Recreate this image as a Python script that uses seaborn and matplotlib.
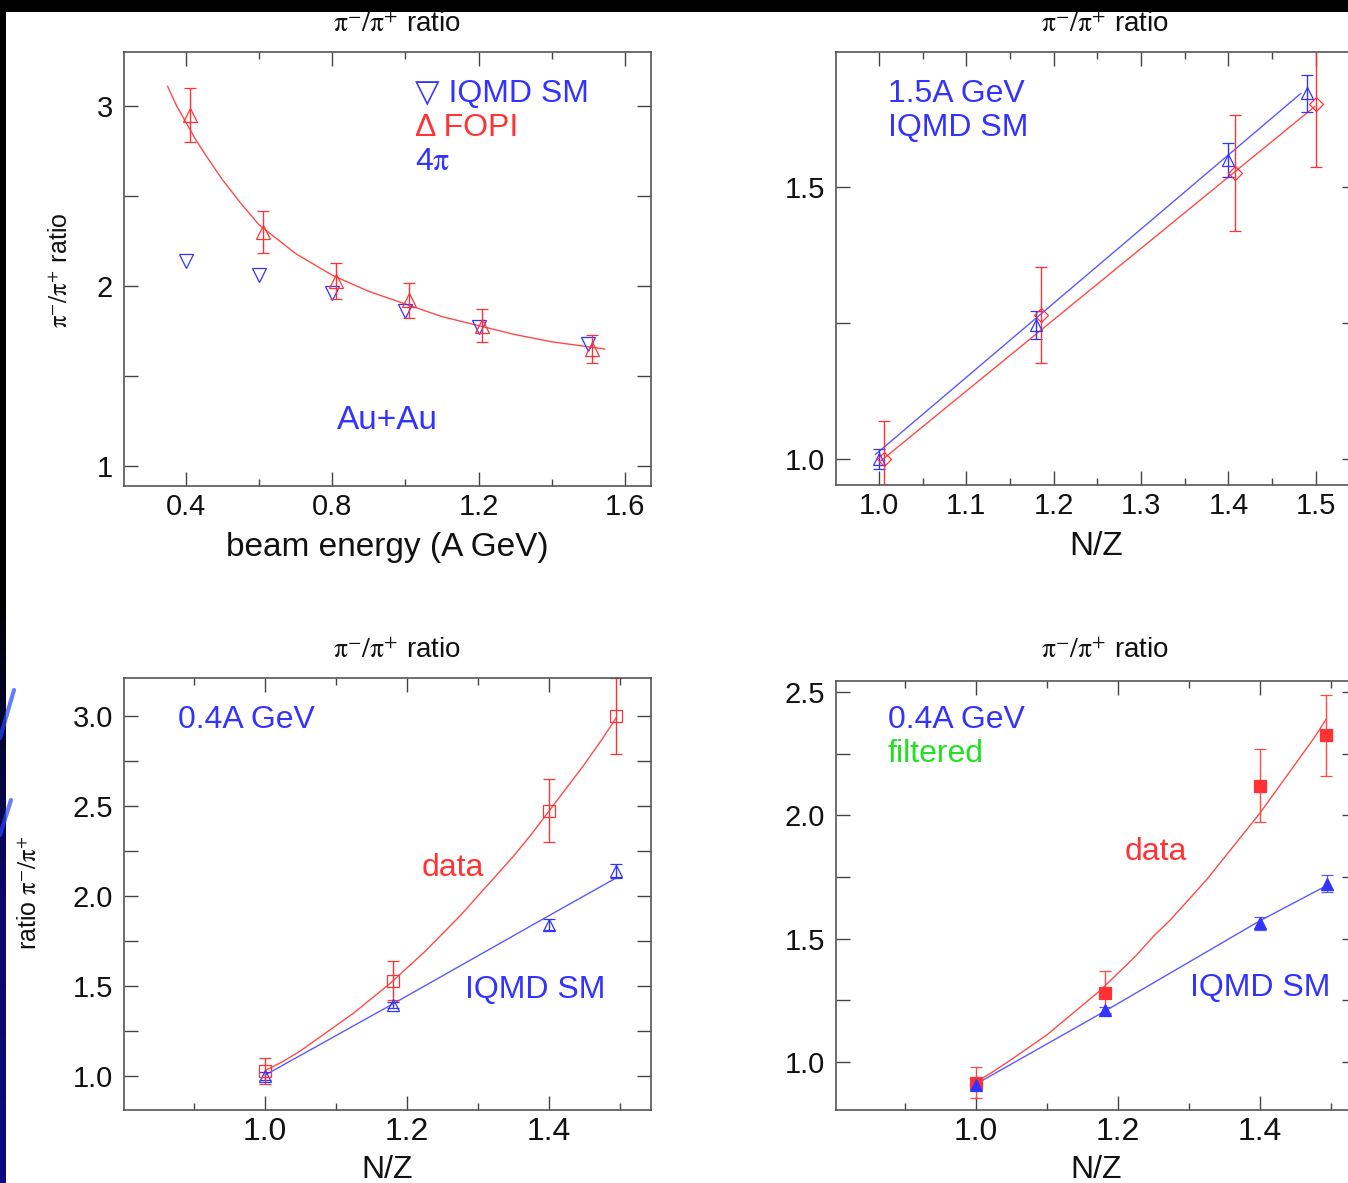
import numpy as np
import pandas as pd
import matplotlib
matplotlib.use("Agg")
import matplotlib.pyplot as plt
import seaborn as sns
from matplotlib.patches import Rectangle

# ---------------- data ----------------
# panel 1: pi-/pi+ vs beam energy (Au+Au)
energy_iqmd = [0.4, 0.6, 0.8, 1.0, 1.2, 1.5]
ratio_iqmd = [2.14, 2.06, 1.96, 1.86, 1.77, 1.68]
energy_fopi = [0.41, 0.61, 0.81, 1.01, 1.21, 1.51]
ratio_fopi = [2.95, 2.30, 2.03, 1.92, 1.78, 1.65]
err_fopi = [0.15, 0.115, 0.10, 0.095, 0.09, 0.08]
fit_energy = [0.35, 0.375, 0.40, 0.425, 0.45, 0.50, 0.55, 0.60, 0.65, 0.70, 0.75, 0.80,
              0.90, 1.00, 1.10, 1.20, 1.30, 1.40, 1.545]
fit_ratio = [3.11, 3.00, 2.91, 2.82, 2.74, 2.59, 2.46, 2.34, 2.26, 2.18, 2.12, 2.06,
             1.97, 1.90, 1.83, 1.78, 1.73, 1.69, 1.65]

# panel 2: 1.5A GeV vs N/Z
nz_iqmd_15 = [1.0, 1.18, 1.40, 1.49]
iqmd_15 = [1.0, 1.246, 1.55, 1.672]
iqmd_15_err = [0.019, 0.025, 0.031, 0.034]
nz_data_15 = [1.006, 1.186, 1.407, 1.50]
data_15 = [1.0, 1.265, 1.526, 1.652]
data_15_err = [0.07, 0.088, 0.107, 0.115]
line_iqmd_15_x = [0.996, 1.483]
line_iqmd_15_y = [1.008, 1.672]
line_data_15_x = [1.002, 1.499]
line_data_15_y = [0.996, 1.648]

# panel 3: 0.4A GeV vs N/Z
nz_data_04 = [1.0, 1.18, 1.40, 1.495]
data_04 = [1.028, 1.53, 2.472, 3.0]
data_04_err = [0.07, 0.107, 0.175, 0.21]
nz_iqmd_04 = [1.0, 1.18, 1.40, 1.494]
iqmd_04 = [1.0, 1.394, 1.84, 2.138]
iqmd_04_err = [0.02, 0.015, 0.03, 0.04]
curve_data_04_x = [1.0, 1.025, 1.05, 1.075, 1.10, 1.125, 1.15, 1.175, 1.20, 1.225, 1.25,
                   1.275, 1.30, 1.325, 1.35, 1.375, 1.40, 1.425, 1.45, 1.475, 1.495]
curve_data_04_y = [1.03, 1.08, 1.14, 1.21, 1.28, 1.35, 1.43, 1.51, 1.60, 1.69, 1.79,
                   1.89, 2.00, 2.11, 2.22, 2.34, 2.47, 2.60, 2.73, 2.87, 2.99]
line_iqmd_04_x = [1.0, 1.18, 1.40, 1.495]
line_iqmd_04_y = [1.005, 1.40, 1.89, 2.10]

# panel 4: 0.4A GeV filtered vs N/Z
nz_data_f = [1.0, 1.181, 1.40, 1.493]
data_f = [0.916, 1.281, 2.121, 2.324]
data_f_err = [0.064, 0.088, 0.148, 0.163]
nz_iqmd_f = [1.0, 1.181, 1.40, 1.494]
iqmd_f = [0.906, 1.21, 1.562, 1.723]
iqmd_f_err = [0.015, 0.012, 0.027, 0.035]
curve_data_f_x = [1.0, 1.025, 1.05, 1.075, 1.10, 1.125, 1.15, 1.175, 1.20, 1.225, 1.25,
                  1.275, 1.30, 1.325, 1.35, 1.375, 1.40, 1.425, 1.45, 1.475, 1.493]
curve_data_f_y = [0.918, 0.962, 1.01, 1.06, 1.11, 1.17, 1.23, 1.29, 1.36, 1.43, 1.51,
                  1.58, 1.66, 1.74, 1.83, 1.92, 2.01, 2.11, 2.21, 2.31, 2.39]
line_iqmd_f_x = [1.0, 1.181, 1.40, 1.493]
line_iqmd_f_y = [0.91, 1.205, 1.573, 1.714]

# ---------------- style ----------------
sns.set_theme(style="ticks")
plt.rcParams["font.family"] = ["Liberation Sans", "DejaVu Sans"]
plt.rcParams["mathtext.fontset"] = "stix"

NARROW = ["Liberation Sans Narrow", "Liberation Sans", "DejaVu Sans"]
SANS = ["Liberation Sans", "DejaVu Sans"]
RED = "#ff3333"
RED_L = "#ff4a4a"
BLUE = "#3333ff"
BLUE_L = "#5a5aff"
GREEN = "#22e022"
TXT = 23
TICK = 21
PI_TITLE = r"$\mathrm{\pi}^{-}/\mathrm{\pi}^{+}$ ratio"

W, H = 1348, 1183
fig = plt.figure(figsize=(W / 100, H / 100), dpi=100, facecolor="white")

# background decoration (slide frame)
deco = fig.add_axes([0, 0, 1, 1], zorder=-5)
deco.axis("off")
deco.add_patch(Rectangle((0, 0), W, 12, color="black", lw=0))
grad = np.linspace(0, 1, 256).reshape(-1, 1)
cmap = matplotlib.colors.LinearSegmentedColormap.from_list(
    "g", ["#000000", "#000000", "#000000", "#0a0a66", "#0c0c80"])
deco.imshow(grad, extent=[0, 6, H, 0], cmap=cmap, aspect="auto", zorder=1)
deco.plot([0, 14], [738, 690], color="#2a48ff", lw=3, alpha=0.7, solid_capstyle="round")
deco.plot([0, 11], [835, 800], color="#2a48ff", lw=3, alpha=0.7, solid_capstyle="round")
deco.set_xlim(0, W)
deco.set_ylim(H, 0)


def px_axes(x0, y0, x1, y1):
    return fig.add_axes([x0 / W, 1 - y1 / H, (x1 - x0) / W, (y1 - y0) / H])


def style(ax, xlim, ylim, xmaj, xmin, ymaj, ymin, xlab, ylab, xfont=SANS, xsize=TICK):
    ax.set_xlim(*xlim)
    ax.set_ylim(*ylim)
    ax.set_xticks(xmaj)
    ax.set_xticks(xmin, minor=True)
    ax.set_yticks(ymaj)
    ax.set_yticks(ymin, minor=True)
    ax.set_xticklabels(xlab, fontsize=xsize, family=xfont, color="#111111")
    ax.set_yticklabels(ylab, fontsize=TICK, family=SANS, color="#111111")
    ax.tick_params(which="both", direction="in", top=True, right=True,
                   color="#444444", width=1.0)
    ax.tick_params(axis="x", which="major", length=10, pad=5)
    ax.tick_params(axis="x", which="minor", length=5)
    ax.tick_params(axis="y", which="both", length=10, pad=8)
    for s in ax.spines.values():
        s.set_visible(True)
        s.set_color("#555555")
        s.set_linewidth(1.2)
    ax.set_facecolor("white")


def title(ax, y):
    ax.set_title(PI_TITLE, x=0.518, y=y, va="center", pad=0,
                 fontsize=20, family=NARROW, color="#111111")


def note(ax, x, y, s, color, size=TXT, ha="left"):
    ax.text(x, y, s, transform=ax.transAxes, ha=ha, va="center",
            fontsize=size, color=color, family=SANS)


def xlabel(ax, s, y, size=TXT, family=SANS):
    ax.set_xlabel(s, fontsize=size, family=family, color="#111111")
    ax.xaxis.set_label_coords(0.5, y)
    ax.xaxis.label.set_va("center")


# ---------------- panel 1 ----------------
ax1 = px_axes(124, 52, 651, 486)
style(ax1, (0.231, 1.671), (0.889, 3.30), [0.4, 0.8, 1.2, 1.6], [0.6, 1.0, 1.4],
      [1, 2, 3], [1.5, 2.5], ["0.4", "0.8", "1.2", "1.6"], ["1", "2", "3"])
sns.lineplot(x=fit_energy, y=fit_ratio, ax=ax1, color=RED_L, lw=1.0, estimator=None, sort=False)
ax1.plot(energy_iqmd, ratio_iqmd, ls="none", marker="v", ms=9.5, mfc="none", mec=BLUE, mew=0.9)
ax1.errorbar(energy_fopi, ratio_fopi, yerr=err_fopi, fmt="^", ms=10.5, mfc="none", mec=RED,
             mew=0.9, ecolor=RED, elinewidth=1.0, capsize=4, capthick=1.0)
title(ax1, 1.062)
xlabel(ax1, "beam energy (A GeV)", -0.1406, size=24)
ax1.set_ylabel(r"$\mathrm{\pi}^{-}/\mathrm{\pi}^{+}$ ratio", fontsize=18, family=NARROW,
               color="#111111")
ax1.yaxis.set_label_coords(-0.12, 0.498)
ax1.yaxis.label.set_va("center")
note(ax1, 0.552, 0.903, "\u25bd IQMD SM", BLUE)
note(ax1, 0.552, 0.825, "\u0394 FOPI", RED)
note(ax1, 0.552, 0.747, r"4$\mathrm{\pi}$", BLUE)
note(ax1, 0.499, 0.150, "Au+Au", BLUE, size=24, ha="center")

# ---------------- panel 2 ----------------
ax2 = px_axes(836, 52, 1356, 485)
style(ax2, (0.951, 1.546), (0.952, 1.748), [1.0, 1.1, 1.2, 1.3, 1.4, 1.5],
      [1.05, 1.15, 1.25, 1.35, 1.45], [1.0, 1.5], [1.25],
      ["1.0", "1.1", "1.2", "1.3", "1.4", "1.5"], ["1.0", "1.5"])
sns.lineplot(x=line_iqmd_15_x, y=line_iqmd_15_y, ax=ax2, color=BLUE_L, lw=1.0, estimator=None, sort=False)
sns.lineplot(x=line_data_15_x, y=line_data_15_y, ax=ax2, color=RED_L, lw=1.0, estimator=None, sort=False)
ax2.errorbar(nz_iqmd_15, iqmd_15, yerr=iqmd_15_err, fmt="^", ms=8.5, mfc="none", mec=BLUE,
             mew=0.9, ecolor=BLUE, elinewidth=1.0, capsize=4, capthick=1.0)
ax2.errorbar(nz_data_15, data_15, yerr=data_15_err, fmt="D", ms=7, mfc="none", mec=RED,
             mew=0.9, ecolor=RED, elinewidth=1.0, capsize=4, capthick=1.0)
title(ax2, 1.062)
xlabel(ax2, "N/Z", -0.143, size=24)
note(ax2, 0.10, 0.903, "1.5A GeV", BLUE)
note(ax2, 0.10, 0.824, "IQMD SM", BLUE)

# ---------------- panel 3 ----------------
ax3 = px_axes(124, 678, 651, 1110)
style(ax3, (0.801, 1.544), (0.811, 3.21), [1.0, 1.2, 1.4], [0.9, 1.1, 1.3, 1.5],
      [1.0, 1.5, 2.0, 2.5, 3.0], [1.25, 1.75, 2.25, 2.75],
      ["1.0", "1.2", "1.4"], ["1.0", "1.5", "2.0", "2.5", "3.0"], xfont=NARROW, xsize=23)
sns.lineplot(x=curve_data_04_x, y=curve_data_04_y, ax=ax3, color=RED_L, lw=1.0, estimator=None, sort=False)
sns.lineplot(x=line_iqmd_04_x, y=line_iqmd_04_y, ax=ax3, color=BLUE_L, lw=1.0, estimator=None, sort=False)
ax3.errorbar(nz_iqmd_04, iqmd_04, yerr=iqmd_04_err, fmt="^", ms=8.5, mfc="none", mec=BLUE,
             mew=0.9, ecolor=BLUE, elinewidth=1.0, capsize=4, capthick=1.0)
ax3.errorbar(nz_data_04, data_04, yerr=data_04_err, fmt="s", ms=9, mfc="none", mec=RED,
             mew=0.9, ecolor=RED, elinewidth=1.0, capsize=4, capthick=1.0)
title(ax3, 1.062)
xlabel(ax3, "N/Z", -0.139, size=23, family=NARROW)
ax3.set_ylabel(r"ratio $\mathrm{\pi}^{-}/\mathrm{\pi}^{+}$", fontsize=18, family=NARROW,
               color="#111111")
ax3.yaxis.set_label_coords(-0.178, 0.502)
ax3.yaxis.label.set_va("center")
note(ax3, 0.102, 0.903, "0.4A GeV", BLUE)
note(ax3, 0.565, 0.560, "data", RED)
note(ax3, 0.647, 0.278, "IQMD SM", BLUE)

# ---------------- panel 4 ----------------
ax4 = px_axes(836, 681, 1356, 1110)
style(ax4, (0.803, 1.535), (0.805, 2.545), [1.0, 1.2, 1.4], [0.9, 1.1, 1.3, 1.5],
      [1.0, 1.5, 2.0, 2.5], [1.25, 1.75, 2.25],
      ["1.0", "1.2", "1.4"], ["1.0", "1.5", "2.0", "2.5"], xfont=NARROW, xsize=23)
sns.lineplot(x=curve_data_f_x, y=curve_data_f_y, ax=ax4, color=RED_L, lw=1.0, estimator=None, sort=False)
sns.lineplot(x=line_iqmd_f_x, y=line_iqmd_f_y, ax=ax4, color=BLUE_L, lw=1.0, estimator=None, sort=False)
ax4.errorbar(nz_data_f, data_f, yerr=data_f_err, fmt="s", ms=8.5, mfc=RED, mec=RED,
             mew=0.9, ecolor=RED_L, elinewidth=1.0, capsize=4, capthick=1.0)
ax4.errorbar(nz_iqmd_f, iqmd_f, yerr=iqmd_f_err, fmt="^", ms=8, mfc=BLUE, mec=BLUE,
             mew=0.9, ecolor=BLUE_L, elinewidth=1.0, capsize=4, capthick=1.0)
title(ax4, 1.070)
xlabel(ax4, "N/Z", -0.14, size=23, family=NARROW)
note(ax4, 0.10, 0.909, "0.4A GeV", BLUE)
note(ax4, 0.10, 0.830, "filtered", GREEN)
note(ax4, 0.556, 0.601, "data", RED)
note(ax4, 0.681, 0.284, "IQMD SM", BLUE)

fig.savefig("out.png", dpi=100, facecolor="white")
